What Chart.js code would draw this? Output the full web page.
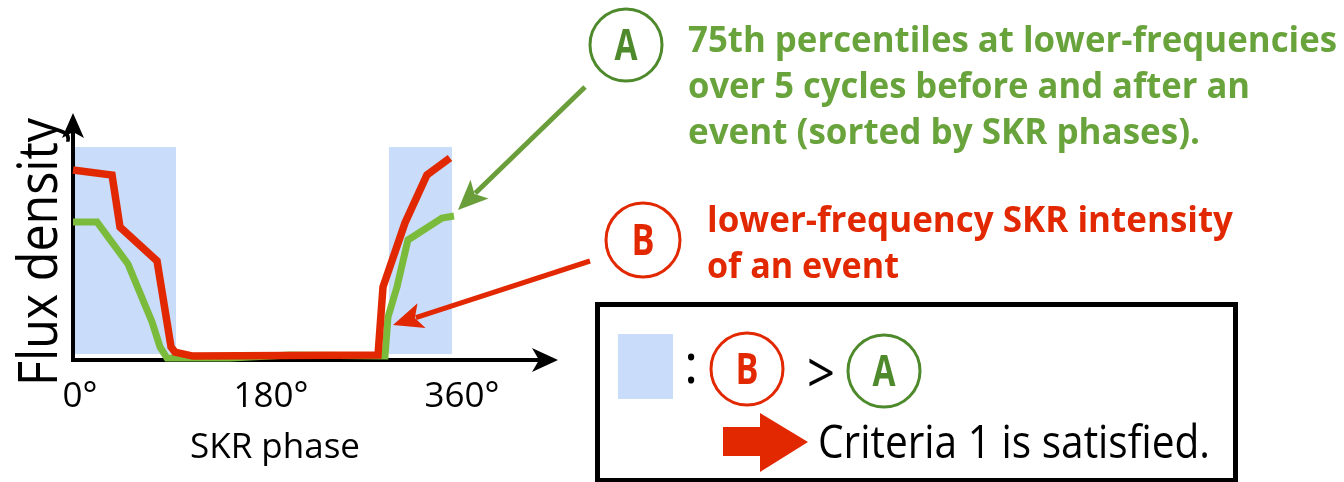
<!DOCTYPE html>
<html>
<head>
<meta charset="utf-8">
<script src="https://cdn.jsdelivr.net/npm/chart.js@4/dist/chart.umd.min.js"></script>
<style>
  html, body { margin: 0; padding: 0; background: #fff; }
  canvas { display: block; }
</style>
</head>
<body>
<canvas id="chart" width="1344" height="482"></canvas>
<script>
// SKR phase (deg) vs flux density (arbitrary units, 0-100)
const phaseRed   = [-6.6, 30.2, 37.7, 72.6, 85.8, 89.5, 106.5, 280.9, 285.6, 306.3, 327.0, 348.7];
const fluxRed    = [76.9, 74.9, 53.8, 40.1, 5.3, 3.2, 1.6, 2.0, 29.6, 55.5, 74.9, 81.8];
const phaseGreen = [-6.6, 16.0, 45.2, 67.9, 75.4, 82.0, 141.4, 197.9, 287.5, 290.3, 298.8, 309.1, 341.2, 352.5];
const fluxGreen  = [55.9, 55.9, 38.9, 15.4, 5.3, 0.8, 0.8, 2.0, 1.6, 17.4, 29.6, 48.6, 57.5, 58.3];

// phases where B > A
const shadedPhases = [[-6.6, 90.5], [291.2, 350.6]];
const shadedFlux   = [2.4, 86.2];

const tickPhases = [0, 180, 360];
const tickLabels = ['0°', '180°', '360°'];

const textA = ['75th percentiles at lower-frequencies', 'over 5 cycles before and after an', 'event (sorted by SKR phases).'];
const textB = ['lower-frequency SKR intensity', 'of an event'];

const RED = '#e22800';
const GREEN = '#7abb3c';
const GREEN_TEXT = '#69a33b';
const GREEN_DARK = '#4e8a2c';
const SHADE = '#c9dcfa';
const FONT = '"Open Sans", "Noto Sans", sans-serif';

function zip(xs, ys) {
    return xs.map(function (x, i) { return {x: x, y: ys[i]}; });
}

// draw text squeezed/stretched to a given width
function fitText(ctx, text, x, y, font, width, align) {
    ctx.font = font;
    var w = ctx.measureText(text).width;
    var s = width ? width / w : 1;
    ctx.save();
    ctx.translate(x, y);
    ctx.scale(s, 1);
    ctx.textAlign = align || 'left';
    ctx.textBaseline = 'alphabetic';
    ctx.fillText(text, 0, 0);
    ctx.restore();
}

// stealth style arrow head, tip at (x, y) pointing along angle
function arrowHead(ctx, x, y, angle, len, half, notch) {
    ctx.save();
    ctx.translate(x, y);
    ctx.rotate(angle);
    ctx.beginPath();
    ctx.moveTo(0, 0);
    ctx.lineTo(-len, -half);
    ctx.lineTo(-len + notch, 0);
    ctx.lineTo(-len, half);
    ctx.closePath();
    ctx.fill();
    ctx.restore();
}

function arrow(ctx, x0, y0, x1, y1, color, width, len, half) {
    var a = Math.atan2(y1 - y0, x1 - x0);
    ctx.save();
    ctx.strokeStyle = color;
    ctx.fillStyle = color;
    ctx.lineWidth = width;
    ctx.beginPath();
    ctx.moveTo(x0, y0);
    ctx.lineTo(x1 - Math.cos(a) * (len - 6), y1 - Math.sin(a) * (len - 6));
    ctx.stroke();
    arrowHead(ctx, x1, y1, a, len, half, 7);
    ctx.restore();
}

function circleLabel(ctx, cx, cy, r, letter, color) {
    ctx.save();
    ctx.strokeStyle = color;
    ctx.lineWidth = 3;
    ctx.beginPath();
    ctx.arc(cx, cy, r, 0, Math.PI * 2);
    ctx.stroke();
    ctx.fillStyle = color;
    fitText(ctx, letter, cx, cy + 15, 'bold 43px ' + FONT, 23, 'center');
    ctx.restore();
}

var sketch = {
    id: 'sketch',
    beforeDatasetsDraw: function (chart) {
        var ctx = chart.ctx, x = chart.scales.x, y = chart.scales.y, area = chart.chartArea;
        ctx.save();
        ctx.fillStyle = SHADE;
        shadedPhases.forEach(function (p) {
            var l = x.getPixelForValue(p[0]), r = x.getPixelForValue(p[1]);
            var t = y.getPixelForValue(shadedFlux[1]), b = y.getPixelForValue(shadedFlux[0]);
            ctx.fillRect(l, t, r - l, b - t);
        });

        // axes with arrows
        ctx.strokeStyle = '#000';
        ctx.fillStyle = '#000';
        ctx.lineWidth = 4;
        ctx.beginPath();
        ctx.moveTo(area.left, area.bottom + 2);
        ctx.lineTo(area.left, area.top + 18);
        ctx.moveTo(area.left - 2, area.bottom);
        ctx.lineTo(545, area.bottom);
        ctx.stroke();
        arrowHead(ctx, area.left, area.top, -Math.PI / 2, 25, 11, 6);
        arrowHead(ctx, 558, area.bottom, 0, 26, 12, 7);

        // y title
        ctx.save();
        ctx.translate(57, 386);
        ctx.rotate(-Math.PI / 2);
        fitText(ctx, 'Flux density', 0, 0, '54px ' + FONT, 268, 'left');
        ctx.restore();
        ctx.restore();
    },
    afterDraw: function (chart) {
        var ctx = chart.ctx;
        ctx.save();

        // annotation arrows
        arrow(ctx, 585, 87, 458, 210, '#6a9e3a', 5, 30, 13);
        arrow(ctx, 590, 261, 393, 325, RED, 5, 30, 13);

        // A label
        circleLabel(ctx, 626, 45, 36, 'A', GREEN_DARK);
        ctx.fillStyle = GREEN_TEXT;
        fitText(ctx, textA[0], 688, 52, 'bold 35px ' + FONT, 649);
        fitText(ctx, textA[1], 688, 98, 'bold 35px ' + FONT, 562);
        fitText(ctx, textA[2], 688, 144, 'bold 35px ' + FONT, 512);

        // B label
        circleLabel(ctx, 643, 240, 37, 'B', RED);
        ctx.fillStyle = RED;
        fitText(ctx, textB[0], 707, 232, 'bold 35px ' + FONT, 526);
        fitText(ctx, textB[1], 707, 278, 'bold 35px ' + FONT, 192);

        // criteria box
        ctx.strokeStyle = '#000';
        ctx.lineWidth = 5;
        ctx.strokeRect(597.5, 304.5, 638, 176);
        ctx.fillStyle = SHADE;
        ctx.fillRect(618, 334, 55, 65);
        ctx.fillStyle = '#000';
        fitText(ctx, ':', 684, 383, '54px ' + FONT, null);
        circleLabel(ctx, 747, 369, 36, 'B', RED);
        ctx.fillStyle = '#000';
        fitText(ctx, '>', 807, 393, '56px ' + FONT, 28);
        circleLabel(ctx, 884, 371, 36, 'A', GREEN_DARK);

        // block arrow
        ctx.fillStyle = RED;
        ctx.beginPath();
        ctx.moveTo(723, 427);
        ctx.lineTo(760, 427);
        ctx.lineTo(760, 413);
        ctx.lineTo(808, 442);
        ctx.lineTo(760, 472);
        ctx.lineTo(760, 456);
        ctx.lineTo(723, 456);
        ctx.closePath();
        ctx.fill();
        ctx.fillStyle = '#000';
        fitText(ctx, 'Criteria 1 is satisfied.', 818, 458, '46px ' + FONT, 392);
        ctx.restore();
    }
};

new Chart(document.getElementById('chart'), {
    type: 'line',
    data: {
        datasets: [
            {
                label: 'B: event intensity',
                data: zip(phaseRed, fluxRed),
                borderColor: RED,
                borderWidth: 7.5,
                pointRadius: 0,
                tension: 0,
                clip: false,
                borderJoinStyle: 'miter'
            },
            {
                label: 'A: 75th percentile',
                data: zip(phaseGreen, fluxGreen),
                borderColor: GREEN,
                borderWidth: 7,
                pointRadius: 0,
                tension: 0,
                clip: false,
                borderJoinStyle: 'miter'
            }
        ]
    },
    options: {
        responsive: false,
        devicePixelRatio: 1,
        animation: false,
        layout: {padding: {top: 113, left: 73, right: 867, bottom: 0}},
        plugins: {legend: {display: false}, tooltip: {enabled: false}},
        scales: {
            x: {
                type: 'linear',
                min: -6.6,
                max: 374.2,
                grid: {display: false, drawTicks: false},
                border: {display: false},
                afterBuildTicks: function (scale) {
                    scale.ticks = tickPhases.map(function (v) { return {value: v}; });
                },
                afterFit: function (scale) { scale.height = 122; },
                ticks: {
                    autoSkip: false,
                    maxRotation: 0,
                    padding: 16,
                    color: '#000',
                    font: {family: FONT, size: 35},
                    callback: function (v) { return tickLabels[tickPhases.indexOf(v)]; }
                },
                title: {
                    display: true,
                    text: 'SKR phase',
                    color: '#000',
                    font: {family: FONT, size: 35},
                    padding: {top: 0, bottom: 13}
                }
            },
            y: {
                display: false,
                min: 0,
                max: 100
            }
        }
    },
    plugins: [sketch]
});
</script>
</body>
</html>
